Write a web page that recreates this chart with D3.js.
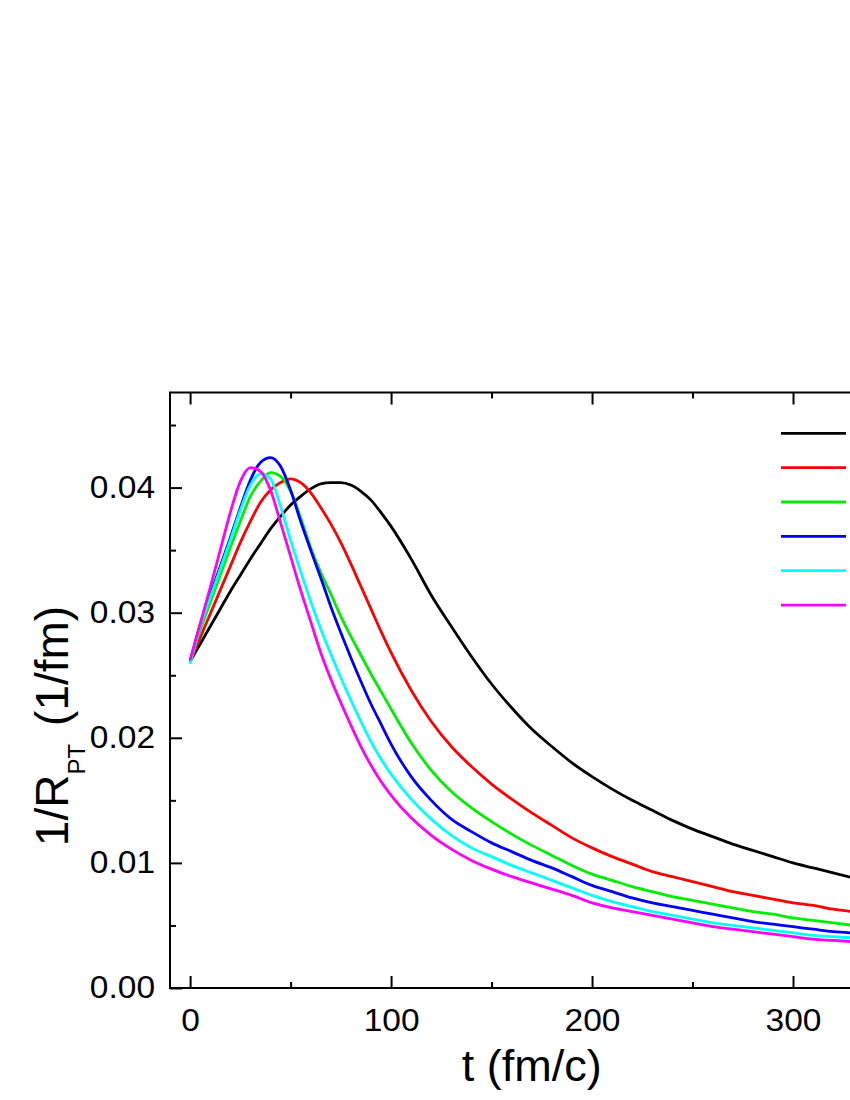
<!DOCTYPE html>
<html>
<head>
<meta charset="utf-8">
<script src="https://cdn.jsdelivr.net/npm/d3@7"></script>
<style>
  html, body { margin: 0; padding: 0; background: #fff; }
  svg { display: block; font-family: "Liberation Sans", Arial, sans-serif; }
</style>
</head>
<body>
<svg id="chart" width="850" height="1100"></svg>
<script>
// time axis (fm/c), 5 fm/c steps up to 100, then 10
var tValues = [0,5,10,15,20,25,30,35,40,45,50,55,60,65,70,75,80,85,90,95,100,
  110,120,130,140,150,160,170,180,190,200,210,220,230,240,250,260,270,280,290,300,310,320,330];

// 1/R_PT (1/fm), one list per curve
var blackValues = [0.0261,0.0275,0.0289,0.0303,0.0317,0.0330,0.0343,0.0355,0.0367,0.0377,0.0386,0.0393,0.0399,0.0403,0.0404,0.0404,0.0402,0.0397,0.0390,0.0380,0.0369,
  0.0343,0.0314,0.0289,0.0265,0.0243,0.0224,0.0207,0.0193,0.0180,0.0169,0.0159,0.0150,0.0142,0.0134,0.0127,0.0121,0.0115,0.0110,0.0105,0.0100,0.0096,0.0092,0.0088];
var redValues = [0.0261,0.0280,0.0299,0.0318,0.0337,0.0356,0.0373,0.0388,0.0398,0.0404,0.0407,0.0404,0.0396,0.0384,0.0371,0.0356,0.0339,0.0321,0.0303,0.0285,0.0268,
  0.0238,0.0213,0.0193,0.0177,0.0163,0.0151,0.0140,0.0130,0.0120,0.0112,0.0105,0.0099,0.0093,0.0089,0.0085,0.0081,0.0077,0.0074,0.0071,0.0068,0.0066,0.0063,0.0061];
var greenValues = [0.0261,0.0286,0.0308,0.0330,0.0352,0.0373,0.0393,0.0405,0.0412,0.0409,0.0397,0.0376,0.0352,0.0332,0.0315,0.0297,0.0281,0.0266,0.0251,0.0237,0.0223,
  0.0196,0.0174,0.0157,0.0144,0.0133,0.0123,0.0114,0.0106,0.0098,0.0091,0.0086,0.0081,0.0077,0.0073,0.0070,0.0067,0.0064,0.0061,0.0059,0.0056,0.0054,0.0052,0.0050];
var blueValues = [0.0261,0.0290,0.0314,0.0337,0.0360,0.0384,0.0406,0.0420,0.0424,0.0417,0.0398,0.0373,0.0350,0.0328,0.0305,0.0284,0.0264,0.0245,0.0227,0.0211,0.0195,
  0.0169,0.0150,0.0135,0.0125,0.0116,0.0109,0.0102,0.0096,0.0089,0.0082,0.0077,0.0072,0.0068,0.0065,0.0062,0.0059,0.0056,0.0053,0.0051,0.0049,0.0047,0.0045,0.0044];
var cyanValues = [0.0259,0.0289,0.0312,0.0335,0.0358,0.0382,0.0402,0.0411,0.0407,0.0385,0.0358,0.0333,0.0309,0.0287,0.0267,0.0248,0.0230,0.0213,0.0197,0.0183,0.0171,
  0.0151,0.0135,0.0122,0.0112,0.0105,0.0098,0.0092,0.0086,0.0080,0.0074,0.0069,0.0065,0.0061,0.0058,0.0055,0.0052,0.0050,0.0048,0.0046,0.0044,0.0042,0.0041,0.0040];
var magentaValues = [0.0262,0.0291,0.0320,0.0350,0.0380,0.0405,0.0416,0.0413,0.0398,0.0372,0.0345,0.0318,0.0293,0.0268,0.0247,0.0228,0.0210,0.0193,0.0178,0.0165,0.0154,
  0.0136,0.0122,0.0111,0.0102,0.0095,0.0089,0.0084,0.0079,0.0074,0.0068,0.0064,0.0061,0.0058,0.0055,0.0052,0.0049,0.0047,0.0045,0.0043,0.0041,0.0039,0.0038,0.0037];

var seriesColors = ['#000000','#ff0000','#00ee00','#0000ff','#00ffff','#ff00ff'];
var seriesValues = [blackValues, redValues, greenValues, blueValues, cyanValues, magentaValues];

var xMajor = [0,100,200,300];
var xMinor = [50,150,250];
var yMajor = [0,0.01,0.02,0.03,0.04];
var yMinor = [0.005,0.015,0.025,0.035,0.045];

var xLabel = 't (fm/c)';

(function () {
  // plot frame (right side runs off the page like the original)
  var pl = 170, pt = 392.5, pb = 988, pr = 893.5;

  var svg = d3.select('#chart');

  var x = d3.scaleLinear().domain([-10, 350]).range([pl, pr]);
  var y = d3.scaleLinear().domain([0, 0.0476]).range([pb, pt]);

  // stretch tick text a bit wider, the original digits are broad
  function widen(sel, k) {
    sel.each(function() {
      var w = this.getComputedTextLength();
      d3.select(this).attr('textLength', w * k).attr('lengthAdjust', 'spacingAndGlyphs');
    });
  }

  svg.append('clipPath').attr('id', 'plotclip')
    .append('rect')
    .attr('x', pl).attr('y', pt)
    .attr('width', pr - pl).attr('height', pb - pt);

  // curves
  var line = d3.line()
    .curve(d3.curveMonotoneX)
    .x(function(d, i) { return x(tValues[i]); })
    .y(function(d) { return y(d); });

  svg.append('g').attr('clip-path', 'url(#plotclip)')
    .selectAll('path')
    .data(seriesValues)
    .enter().append('path')
    .attr('d', line)
    .attr('fill', 'none')
    .attr('stroke', function(d, i) { return seriesColors[i]; })
    .attr('stroke-width', 2.8)
    .attr('stroke-linejoin', 'round');

  // axes, ticks pointing inwards
  var gLeft = svg.append('g').attr('transform', 'translate(' + pl + ',0)');
  gLeft.append('g').call(d3.axisLeft(y).tickValues(yMajor).tickSize(-12).tickPadding(15).tickFormat(d3.format('.2f')));
  gLeft.append('g').call(d3.axisLeft(y).tickValues(yMinor).tickSize(-6).tickFormat(''));

  var gBottom = svg.append('g').attr('transform', 'translate(0,' + pb + ')');
  gBottom.append('g').call(d3.axisBottom(x).tickValues(xMajor).tickSize(-12).tickPadding(21).tickFormat(d3.format('d')));
  gBottom.append('g').call(d3.axisBottom(x).tickValues(xMinor).tickSize(-6).tickFormat(''));

  var gTop = svg.append('g').attr('transform', 'translate(0,' + pt + ')');
  gTop.append('g').call(d3.axisTop(x).tickValues(xMajor).tickSize(-12).tickFormat(''));
  gTop.append('g').call(d3.axisTop(x).tickValues(xMinor).tickSize(-6).tickFormat(''));

  svg.selectAll('.domain').remove();
  svg.selectAll('.tick line').attr('stroke', '#000').attr('stroke-width', 2);
  svg.selectAll('.tick text')
    .attr('font-family', '"Liberation Sans", Arial, sans-serif')
    .attr('font-size', 31)
    .attr('fill', '#000')
    .call(widen, 1.08);

  // frame
  svg.append('rect')
    .attr('x', pl).attr('y', pt)
    .attr('width', pr - pl).attr('height', pb - pt)
    .attr('fill', 'none')
    .attr('stroke', '#000')
    .attr('stroke-width', 2);

  // legend swatches (labels fall outside the page)
  svg.append('g').selectAll('line')
    .data(seriesColors)
    .enter().append('line')
    .attr('x1', 781).attr('x2', 846)
    .attr('y1', function(d, i) { return 433.3 + i * 34.35; })
    .attr('y2', function(d, i) { return 433.3 + i * 34.35; })
    .attr('stroke', function(d) { return d; })
    .attr('stroke-width', 2.8);

  // axis titles
  svg.append('text')
    .attr('x', (pl + pr) / 2)
    .attr('y', 1081)
    .attr('text-anchor', 'middle')
    .attr('font-size', 45)
    .text(xLabel);

  var yt = svg.append('text')
    .attr('transform', 'translate(68,726) rotate(-90)')
    .attr('text-anchor', 'middle')
    .attr('font-size', 46);
  yt.append('tspan').text('1/R');
  yt.append('tspan').attr('font-size', 24).attr('dy', 17).text('PT');
  yt.append('tspan').attr('dy', -17).attr('dx', 18).text('(1/fm)');
})();
</script>
</body>
</html>
